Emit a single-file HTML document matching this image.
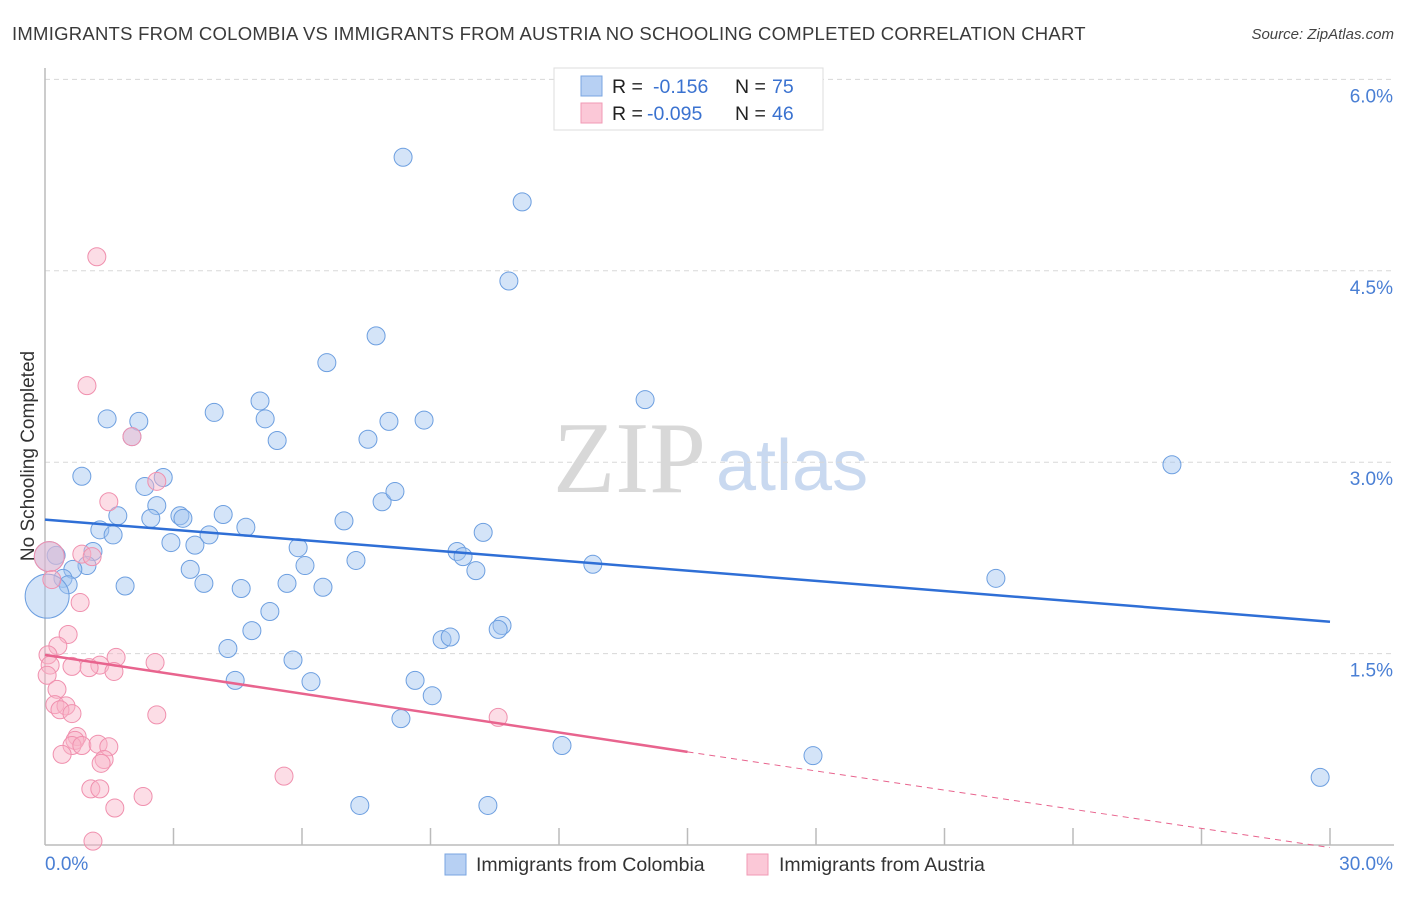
<!DOCTYPE html>
<html><head><meta charset="utf-8"><style>
body{margin:0;background:#fff;font-family:"Liberation Sans",sans-serif;}
</style></head><body>
<svg id="chart" width="1406" height="892" xmlns="http://www.w3.org/2000/svg" font-family="Liberation Sans, sans-serif">
<text x="12" y="40" font-size="18.5" fill="#3a3a3a" letter-spacing="0.25">IMMIGRANTS FROM COLOMBIA VS IMMIGRANTS FROM AUSTRIA NO SCHOOLING COMPLETED CORRELATION CHART</text>
<text x="1394" y="39" font-size="15" font-style="italic" fill="#444" text-anchor="end">Source: ZipAtlas.com</text>
<g>
<text x="553" y="492" font-size="102" style="font-family:'Liberation Serif',serif" fill="#d8d8d8">ZIP</text>
<text x="716" y="490" font-size="72" fill="#c9d9f0">atlas</text>
</g>
<g id="grid"></g>
<g id="axes"></g>
<g id="marks"></g>
<text transform="translate(34,456) rotate(-90)" font-size="19" fill="#333" text-anchor="middle">No Schooling Completed</text>
<g>
<rect x="554" y="68" width="269" height="62" fill="#fff" stroke="#ddd"/>
<rect x="581" y="76" width="21" height="20" fill="#b7d0f3" stroke="#7aa5e0"/>
<rect x="581" y="103" width="21" height="20" fill="#fbc8d7" stroke="#f09ab4"/>
<text x="612" y="93" font-size="19.5" fill="#222">R =</text>
<text x="653" y="93" font-size="19.5" fill="#3a72d0">-0.156</text>
<text x="735" y="93" font-size="19.5" fill="#222">N =</text>
<text x="772" y="93" font-size="19.5" fill="#3a72d0">75</text>
<text x="612" y="120" font-size="19.5" fill="#222">R =</text>
<text x="647" y="120" font-size="19.5" fill="#3a72d0">-0.095</text>
<text x="735" y="120" font-size="19.5" fill="#222">N =</text>
<text x="772" y="120" font-size="19.5" fill="#3a72d0">46</text>
</g>
<g>
<rect x="445" y="854" width="21" height="21" fill="#b7d0f3" stroke="#7aa5e0"/>
<text x="476" y="871" font-size="19.5" fill="#333">Immigrants from Colombia</text>
</g>
<g>
<rect x="747" y="854" width="21" height="21" fill="#fbc8d7" stroke="#f09ab4"/>
<text x="779" y="871" font-size="19.5" fill="#333">Immigrants from Austria</text>
</g>
</svg>
<script>
const yTicks=[1.5,3.0,4.5,6.0];
const yTickLabels=["1.5%","3.0%","4.5%","6.0%"];
const xTickCount=10;
const xLabels=["0.0%","30.0%"];
const colX=[8.36,11.14,10.83,7.73,6.58,14.01,26.31,1.45,2.19,3.95,5.02,5.14,5.42,7.54,8.03,8.85,2.03,0.86,2.76,2.33,2.61,7.87,8.17,1.70,2.47,3.15,3.22,4.16,4.69,6.98,1.28,1.59,2.94,3.50,3.83,5.91,10.23,9.62,9.76,0.26,1.12,0.98,0.65,3.39,6.07,7.26,10.06,12.79,22.20,0.42,0.54,1.87,3.71,4.58,5.65,6.49,5.25,4.83,9.27,9.46,10.67,10.58,4.27,5.79,4.44,6.21,8.64,9.04,8.31,12.07,17.93,29.77,7.35,10.34,0.05,0.1];
const colY=[5.39,5.04,4.42,3.99,3.78,3.49,2.98,3.34,3.32,3.39,3.48,3.34,3.17,3.18,3.32,3.33,3.20,2.89,2.88,2.81,2.66,2.69,2.77,2.58,2.56,2.58,2.56,2.59,2.49,2.54,2.47,2.43,2.37,2.35,2.43,2.33,2.45,2.30,2.26,2.27,2.30,2.19,2.16,2.16,2.19,2.23,2.15,2.20,2.09,2.09,2.04,2.03,2.05,2.01,2.05,2.02,1.83,1.68,1.61,1.63,1.72,1.69,1.54,1.45,1.29,1.28,1.29,1.17,0.99,0.78,0.70,0.53,0.31,0.31,1.95,2.26];
const colR=colX.map((v,i)=>i===74?22:(i===75?15:9));
const ausX=[1.21,0.98,2.03,2.61,1.49,0.86,1.10,0.82,0.54,0.30,0.07,0.12,0.63,0.05,1.28,1.03,1.66,1.61,2.57,0.28,0.23,0.49,0.35,0.63,2.61,10.58,0.75,0.70,0.63,0.86,1.24,1.49,0.40,1.38,1.31,5.58,1.07,1.28,2.29,1.63,1.12,0.1,0.16];
const ausY=[4.61,3.60,3.20,2.85,2.69,2.28,2.26,1.90,1.65,1.56,1.49,1.41,1.40,1.33,1.41,1.39,1.47,1.36,1.43,1.22,1.10,1.09,1.06,1.03,1.02,1.00,0.85,0.82,0.78,0.78,0.79,0.77,0.71,0.67,0.64,0.54,0.44,0.44,0.38,0.29,0.03,2.26,2.08];
const colTrend=[2.55,1.75];
const ausTrend=[1.49,0.73,-0.02];
const X0=45,X1=1330,Y0=845,PPU=127.6;
const sx=v=>X0+(X1-X0)*v/30;
const sy=v=>Y0-v*PPU;
const NS="http://www.w3.org/2000/svg";
function mk(tag,attrs,parent){const e=document.createElementNS(NS,tag);for(const k in attrs)e.setAttribute(k,attrs[k]);document.getElementById(parent).appendChild(e);return e;}
yTicks.forEach((t,i)=>{
 const l=mk('line',{x1:X0,x2:1394,y1:sy(t),y2:sy(t),stroke:'#d8d8d8','stroke-dasharray':'5,4'},'grid');
 
 
 const tx=mk('text',{x:1393,y:sy(t)+23,'font-size':19,fill:'#4a7fd4','text-anchor':'end'},'grid');
 tx.textContent=yTickLabels[i];
 
 
});
const ya=mk('line',{x1:X0,x2:X0,y1:68,y2:Y0,stroke:'#bbb','stroke-width':1.5},'axes');


const xa=mk('line',{x1:X0,x2:1394,y1:Y0,y2:Y0,stroke:'#bbb','stroke-width':1.5},'axes');


for(let k=1;k<=xTickCount;k++){const v=30*k/xTickCount;
 const t=mk('line',{x1:sx(v),x2:sx(v),y1:828,y2:Y0,stroke:'#bbb','stroke-width':1.5},'axes');
 
 }
const xl0=mk('text',{x:45,y:870,'font-size':19,fill:'#4a7fd4'},'axes');xl0.textContent=xLabels[0];


const xl1=mk('text',{x:1393,y:870,'font-size':19,fill:'#4a7fd4','text-anchor':'end'},'axes');xl1.textContent=xLabels[1];


colX.forEach((v,i)=>{
 const c=mk('circle',{cx:sx(v),cy:sy(colY[i]),r:colR[i],fill:'rgba(160,196,240,0.45)',stroke:'#6d9fe0','stroke-width':1},'marks');
 
 
});
ausX.forEach((v,i)=>{
 const c=mk('circle',{cx:sx(v),cy:sy(ausY[i]),r:i===41?15:9,fill:'rgba(248,180,200,0.45)',stroke:'#f090ae','stroke-width':1},'marks');
 
 
});
const bt=mk('line',{x1:sx(0),y1:sy(colTrend[0]),x2:sx(30),y2:sy(colTrend[1]),stroke:'#2f6fd6','stroke-width':2.5},'marks');


const pt=mk('line',{x1:sx(0),y1:sy(ausTrend[0]),x2:sx(15),y2:sy(ausTrend[1]),stroke:'#e8648e','stroke-width':2.5},'marks');


const pd=mk('line',{x1:sx(15),y1:sy(ausTrend[1]),x2:sx(30),y2:sy(ausTrend[2]),stroke:'#e8648e','stroke-width':1,'stroke-dasharray':'6,5'},'marks');


</script>
</body></html>
